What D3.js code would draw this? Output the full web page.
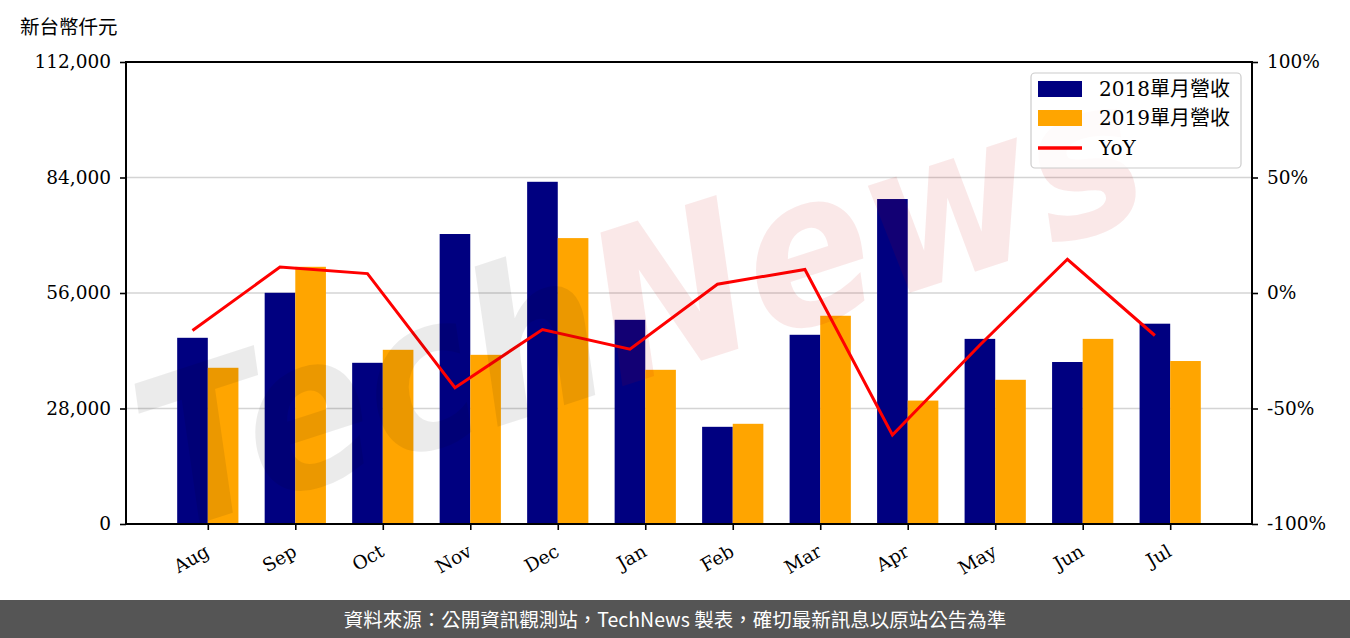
<!DOCTYPE html>
<html>
<head>
<meta charset="utf-8">
<script src="https://cdn.jsdelivr.net/npm/d3@7"></script>
<style>
  html, body { margin: 0; padding: 0; background: #fff; }
  svg { display: block; }
</style>
</head>
<body>
<script>
const months = ["Aug","Sep","Oct","Nov","Dec","Jan","Feb","Mar","Apr","May","Jun","Jul"];
const rev2018 = [45140, 56050, 39080, 70300, 82960, 49500, 23560, 45870, 78780, 44880, 39270, 48560];
const rev2019 = [37870, 62350, 42230, 41010, 69310, 37380, 24290, 50480, 29920, 34960, 44880, 39510];
const yoy = [-16.2, 11.2, 8.4, -41.0, -15.8, -24.3, 3.8, 10.2, -61.5, -22.5, 14.6, -18.4];
const leftTicks = [0, 28000, 56000, 84000, 112000];
const rightTicks = [-100, -50, 0, 50, 100];
const seriesNames = ["2018單月營收", "2019單月營收", "YoY"];
const unitLabel = "新台幣仟元";
const footerText = "資料來源：公開資訊觀測站，TechNews 製表，確切最新訊息以原站公告為準";

const W = 1350, H = 638;
const L = 126, R = 1252, T = 62, B = 524;
const serif = "'DejaVu Serif', 'Noto Sans CJK TC', serif";

const svg = d3.select("body").append("svg").attr("width", W).attr("height", H);

const x = d3.scaleLinear().domain([-0.935, months.length - 1 + 0.935]).range([L, R]);
const y = d3.scaleLinear().domain([0, 112000]).range([B, T]);
const y2 = d3.scaleLinear().domain([-100, 100]).range([B, T]);

// gridlines
svg.append("g").selectAll("line").data(leftTicks.slice(1, -1)).join("line")
  .attr("x1", L).attr("x2", R).attr("y1", d => y(d)).attr("y2", d => y(d))
  .attr("stroke", "#d4d4d4").attr("stroke-width", 1.6);

// bars
const bw = 0.35;
svg.append("g").selectAll("rect").data(rev2018).join("rect")
  .attr("x", (d, i) => x(i - bw)).attr("width", (d, i) => x(i) - x(i - bw))
  .attr("y", d => y(d)).attr("height", d => y(0) - y(d)).attr("fill", "#000080");
svg.append("g").selectAll("rect").data(rev2019).join("rect")
  .attr("x", (d, i) => x(i)).attr("width", (d, i) => x(i + bw) - x(i))
  .attr("y", d => y(d)).attr("height", d => y(0) - y(d)).attr("fill", "#ffa500");

// YoY line
const line = d3.line().x((d, i) => x(i - bw / 2)).y(d => y2(d));
svg.append("path").datum(yoy).attr("d", line).attr("fill", "none")
  .attr("stroke", "#ff0000").attr("stroke-width", 3).attr("stroke-linejoin", "miter");

// axes
const axL = d3.axisLeft(y).tickValues(leftTicks).tickFormat(d3.format(",")).tickSize(6).tickPadding(9);
const gL = svg.append("g").attr("transform", `translate(${L},0)`).call(axL);
gL.selectAll("text").attr("font-family", serif).attr("font-size", 18.5).attr("fill", "#000");

const axR = d3.axisRight(y2).tickValues(rightTicks).tickFormat(d => d + "%").tickSize(6).tickPadding(9);
const gR = svg.append("g").attr("transform", `translate(${R},0)`).call(axR);
gR.selectAll("text").attr("font-family", serif).attr("font-size", 18.5).attr("fill", "#000");

const axB = d3.axisBottom(x).tickValues(d3.range(months.length)).tickFormat(i => months[i]).tickSize(6).tickPadding(6);
const gB = svg.append("g").attr("transform", `translate(0,${B})`).call(axB);
gB.selectAll("text").attr("font-family", serif).attr("font-size", 18.5).attr("fill", "#000")
  .attr("text-anchor", "end").attr("dy", "0.35em")
  .attr("transform", "translate(-7,15) rotate(-30)");

[gL, gR, gB].forEach(g => {
  g.select(".domain").remove();
  g.selectAll(".tick line").attr("stroke", "#000").attr("stroke-width", 1.6);
});

// frame
svg.append("rect").attr("x", L).attr("y", T).attr("width", R - L).attr("height", B - T)
  .attr("fill", "none").attr("stroke", "#000").attr("stroke-width", 2);

// watermark
const wm = svg.append("text")
  .attr("transform", "translate(645,318) rotate(-18)")
  .attr("text-anchor", "middle").attr("dominant-baseline", "middle")
  .attr("font-family", "'DejaVu Sans', sans-serif").attr("font-weight", "bold").attr("font-style", "italic")
  .attr("font-size", 210).attr("textLength", 1040).attr("lengthAdjust", "spacingAndGlyphs")
  .style("pointer-events", "none");
wm.append("tspan").text("Tech").attr("fill", "rgba(0,0,0,0.08)");
wm.append("tspan").text("News").attr("fill", "rgba(204,0,0,0.09)");

// legend
const lg = svg.append("g");
lg.append("rect").attr("x", 1031).attr("y", 73).attr("width", 210).attr("height", 95).attr("rx", 4)
  .attr("fill", "rgba(255,255,255,0.8)").attr("stroke", "#cccccc").attr("stroke-width", 1.2);
const lgY = [89, 118, 148];
lg.append("rect").attr("x", 1038).attr("y", lgY[0] - 8).attr("width", 44).attr("height", 16).attr("fill", "#000080");
lg.append("rect").attr("x", 1038).attr("y", lgY[1] - 8).attr("width", 44).attr("height", 16).attr("fill", "#ffa500");
lg.append("line").attr("x1", 1038).attr("x2", 1082).attr("y1", lgY[2]).attr("y2", lgY[2])
  .attr("stroke", "#ff0000").attr("stroke-width", 3.3);
lg.selectAll("text.lt").data(seriesNames).join("text").attr("class", "lt")
  .attr("x", 1099).attr("y", (d, i) => lgY[i]).attr("dy", "0.36em")
  .attr("font-family", serif).attr("font-size", 20).attr("fill", "#000").text(d => d);

// unit label
svg.append("text").attr("x", 20).attr("y", 27).attr("dy", "0.36em")
  .attr("font-family", serif).attr("font-size", 19.5).attr("fill", "#000").text(unitLabel);

// footer
svg.append("rect").attr("x", 0).attr("y", 600).attr("width", W).attr("height", 38).attr("fill", "#555555");
svg.append("text").attr("x", 675).attr("y", 620).attr("dy", "0.36em").attr("text-anchor", "middle")
  .attr("font-family", "'Noto Sans CJK TC', sans-serif").attr("font-size", 19.5).attr("fill", "#ffffff")
  .text(footerText);
</script>
</body>
</html>
